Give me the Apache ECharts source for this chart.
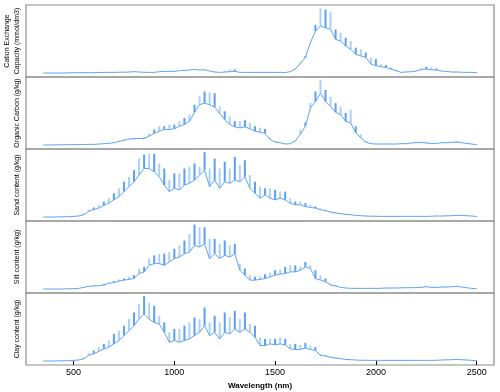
<!DOCTYPE html>
<html>
<head>
<meta charset="utf-8">
<script src="https://cdn.jsdelivr.net/npm/echarts@6/dist/echarts.min.js"></script>
<style>
    html, body { margin: 0; padding: 0; background: #fff; }
    #chart { width: 500px; height: 392px; }
</style>
</head>
<body>
<div id="chart"></div>
<script>
    // wavelength grid (nm)
    var wavelengths = [350,375,400,425,450,475,500,525,550,575,600,625,650,675,700,725,750,775,800,825,850,875,900,925,950,975,
        1000,1025,1050,1075,1100,1125,1150,1175,1200,1225,1250,1275,1300,1325,1350,1375,1400,1425,1450,1475,
        1500,1525,1550,1575,1600,1625,1650,1675,1700,1725,1750,1775,1800,1825,1850,1875,1900,1925,1950,1975,
        2000,2025,2050,2075,2100,2125,2150,2175,2200,2225,2250,2275,2300,2325,2350,2375,2400,2425,2450,2475,2500];
    var xTicks = [500, 1000, 1500, 2000, 2500];

    var panelNames = ['Cation Exchange\nCapacity (mmol/dm3)', 'Organic Carbon (g/kg)', 'Sand content (g/kg)', 'Silt content (g/kg)', 'Clay content (g/kg)'];

    // mean importance curve and top of its error bar, per soil property
    var cecMean = [0,0,0,0,0,0.3,0.5,0.5,0.5,0.5,0.7,0.8,1,1,
        1,1.2,1.3,1.5,2,1.5,1.2,
        1,1,2,2.5,2.5,
        2.5,3.5,4,4.5,5.5,4.5,5,3,1.5,1,1.5,2,2.5,
        1,1,1,1,1,1,1,1,1,0.8,2,6,
        14.5,23.5,46,63.5,71,68.5,66,51,48.5,41,36,28.5,26,23.5,13.5,11,9.5,8.5,6,3.5,
        1,1.5,2,3,5,6,5,4.5,3,2.5,1.5,1.5,1.2,1,1,0.8];
    var cecUpper = [0.3,0.3,0.3,0.3,0.3,0.6,0.8,0.8,0.8,0.8,1,1.1,1.3,1.3,
        1.3,1.5,1.6,1.8,2.4,1.8,1.5,
        1.3,1.3,2.4,3,3,
        3,4,4.5,5,6,5,5.5,3.5,2,1.3,2.5,5.5,5.5,
        1.3,1.3,1.3,1.3,1.3,1.3,1.3,1.3,1.3,1.1,2.5,7,
        17,26,48,73,98,96,93,66,61,53.5,48.5,38.5,36,31,23.5,21,13.5,12,8.5,5,
        1.4,2,2.5,3.5,7.5,9.5,8.5,7,3.5,3,2,2,1.5,1.3,1.3,1.1];

    var ocMean = [0,0,0.2,0.3,0.4,0.5,0.6,0.7,0.8,1,
        1,1.5,2,2.5,3.5,5.5,7,9,9.5,10,10,
        13.5,17.5,21,23.5,23.5,24.5,28.5,31,36,
        49.5,61,63.5,61,57.5,47.5,38.5,31,27.5,26,27.5,24.5,21,19.5,17.5,
        8.5,4.5,3.5,1.5,2,6,
        16,28.5,56,66,78.5,66,58.5,49.5,46,36,33.5,18.5,11,
        4.5,2,1.5,1.5,1.5,1.5,1.5,2,
        2,3,3.5,4,3,2.5,2.5,3.5,3.5,4,4.5,3.5,2.5,1.5,0.5];
    var ocUpper = [0.3,0.3,0.5,0.6,0.7,0.8,0.9,1,1.1,1.3,
        1.3,1.8,2.4,3,4,6.5,8,10,10.5,11,11.5,
        17.5,23.5,28.5,28.5,31,31,36,41,46,
        61,73.5,81,79.5,78.5,58.5,51,43.5,36,36,37.5,33.5,28.5,26,24.5,
        11,5.5,4,2,2.5,7,
        23.5,34,63.5,81,98.5,83.5,73.5,63.5,58.5,48.5,53.5,28.5,16,
        5.5,2.5,2,2,2,2,2,2.5,
        2.5,3.5,4.5,5,4,3,3,4.5,4.5,5,6,4.5,3,2,0.8];

    var sandMean = [0,0,0,0.2,0.4,0.5,1,1.5,3.5,
        8.5,11,13.5,17.5,21,26,31,38.5,46,53.5,63.5,73.5,73.5,68.5,
        61,48.5,38.5,43.5,41,48.5,51,56,63.5,71,46,56,43.5,53.5,51,56,53.5,61,
        43.5,36,28.5,33.5,28.5,26,28.5,26,21,18.5,18.5,16,14.5,13.5,11,9.5,7.5,6,5,4,3.5,2.5,2,1.5,
        1.2,1.2,1,1,1,1,1,1,1,1,1,1,1.2,1.5,1.5,1.8,2,2.5,2.5,2,1.5,0.8];
    var sandUpper = [0.3,0.3,0.3,0.5,0.7,0.8,1.5,2.5,5,
        11.5,14.5,18.5,23.5,28.5,36,43.5,53.5,61,71,88.5,94.5,96,96,
        81,73.5,56,66,66,73.5,76,81,76,98.5,73.5,88.5,73.5,83.5,73.5,91,78.5,86,
        63.5,53.5,46,43.5,43.5,41,38.5,38.5,28.5,23.5,23.5,21,18.5,16,13.5,11,9,7,6,5,4.5,3,2.5,2,
        1.6,1.6,1.3,1.3,1.3,1.3,1.3,1.3,1.3,1.3,1.3,1.3,1.6,2,2,2.3,2.6,3.2,3.2,2.6,2,1];

    var siltMean = [0,0,0,0,0.2,0.4,0.5,
        1,2.5,4,4.5,5,6,8.5,10,12,13.5,14.5,16,
        23.5,26,36,38.5,38.5,36,41,46,48.5,53.5,56,66,63.5,68.5,46,53.5,46,51,48.5,53.5,
        28.5,21,13.5,13.5,14.5,16,18.5,21,22.5,23.5,26,26,28.5,33.5,31,16,13.5,11,6,4.5,2.5,1.5,
        1.2,1,1,1,1,1,1.2,1.5,1.5,1.5,1.8,2,2,2.2,2.5,3.5,2.5,2.5,3,3,3.5,4,3,2,1,0.5];
    var siltUpper = [0.3,0.3,0.3,0.3,0.5,0.7,0.8,
        1.5,3.2,5,5.5,6,7.5,10,12,14.5,16,18.5,21,
        31,33.5,46,51,53.5,53.5,56,61,66,73.5,83.5,97.5,93.5,93.5,76,76,68.5,73.5,66,68.5,
        38.5,31,21,18.5,19.5,22.5,24.5,28.5,29.5,33.5,36,36,33.5,41,36,28.5,21,16,8.5,5.5,3,2,
        1.6,1.3,1.3,1.3,1.3,1.3,1.6,2,2,2,2.3,2.6,2.6,2.8,3.2,4.3,3.2,3.2,3.8,3.8,4.3,5,3.8,2.6,1.3,0.8];

    var clayMean = [0,0,0,0.2,0.4,0.5,1,1.5,3.5,
        8.5,11,14.5,18.5,21,26,31,38.5,46,53.5,63.5,71,63.5,58.5,
        56,43.5,28.5,31,28.5,31,33.5,38.5,43.5,53.5,38.5,43.5,33.5,43.5,41,48.5,43.5,48.5,43.5,36,
        23.5,23.5,26,24.5,26,24.5,18.5,17.5,17.5,19.5,17.5,16,8.5,7.5,5.5,4.5,3.5,2.5,2,1.5,
        1.2,1.2,1,1,1,1,1,1,1,1,1,1,1,1,1,1.2,1.5,1.8,2,2.5,2,1.5,1,0.5];
    var clayUpper = [0.3,0.3,0.3,0.5,0.7,0.8,1.5,2.5,5,
        12,16,21,26,31,41,46,53.5,63.5,73.5,86,98.5,88.5,83.5,
        68.5,58.5,43.5,48.5,48.5,53.5,58.5,66,63.5,81,58.5,68.5,58.5,73.5,66,76,63.5,73.5,56,53.5,
        36,33.5,33.5,33.5,36,33.5,26,26,24.5,27.5,23.5,21,11,9,7,5.5,4.5,3,2.5,2,
        1.6,1.6,1.3,1.3,1.3,1.3,1.3,1.3,1.3,1.3,1.3,1.3,1.3,1.3,1.3,1.6,2,2.3,2.6,3.2,2.6,2,1.3,0.8];

    var means = [cecMean, ocMean, sandMean, siltMean, clayMean];
    var uppers = [cecUpper, ocUpper, sandUpper, siltUpper, clayUpper];

    var chart = echarts.init(document.getElementById('chart'), null, {renderer: 'canvas'});

    var grids = [], xAxes = [], yAxes = [], series = [];
    for (var i = 0; i < 5; i++) {
        var last = (i == 4);
        grids.push({
            left: 26, right: 6, top: 5 + i * 72, height: 72,
            outerBoundsMode: 'none', containLabel: false,
            show: true, borderColor: '#8c8c8c', borderWidth: 1.2
        });
        xAxes.push({
            gridIndex: i, type: 'value', min: 264, max: 2586,
            axisLine: {show: false},
            splitLine: {show: false},
            axisTick: {show: last, customValues: xTicks, length: 4, lineStyle: {color: '#000'}},
            axisLabel: {
                show: last, customValues: xTicks, fontSize: 9, color: '#000', margin: 3, fontFamily: 'Liberation Sans',
                formatter: function (v) { return String(v); }
            },
            name: last ? 'Wavelength (nm)' : '',
            nameLocation: 'middle', nameGap: 17,
            nameTextStyle: {fontSize: 8, fontWeight: 'bold', color: '#000', fontFamily: 'Liberation Sans'}
        });
        yAxes.push({
            gridIndex: i, type: 'value', min: -6, max: 103,
            axisLine: {show: false}, axisTick: {show: false}, axisLabel: {show: false}, splitLine: {show: false},
            name: panelNames[i], nameLocation: 'middle', nameRotate: 90, nameGap: 4,
            nameTextStyle: {fontSize: 7, color: '#000', lineHeight: 10, fontFamily: 'Liberation Sans'}
        });

        var barData = [], lineData = [];
        for (var k = 0; k < wavelengths.length; k++) {
            barData.push([wavelengths[k], means[i][k], uppers[i][k]]);
            lineData.push([wavelengths[k], means[i][k]]);
        }
        // error bars: thin vertical segments from the mean up to the upper value
        series.push({
            type: 'custom', xAxisIndex: i, yAxisIndex: i, silent: true, z: 2,
            encode: {x: 0, y: [1, 2]},
            data: barData,
            renderItem: function (params, api) {
                var p0 = api.coord([api.value(0), api.value(1)]);
                var p1 = api.coord([api.value(0), api.value(2)]);
                return {
                    type: 'line',
                    shape: {x1: p0[0], y1: p0[1], x2: p1[0], y2: p1[1]},
                    style: {stroke: params.dataIndex % 2 ? '#acd0fa' : '#5b9ff0', lineWidth: 2}
                };
            }
        });
        series.push({
            type: 'line', xAxisIndex: i, yAxisIndex: i, silent: true, z: 3,
            data: lineData, showSymbol: false, animation: false,
            lineStyle: {color: '#5ea4f5', width: 1}
        });
    }

    chart.setOption({
        animation: false,
        grid: grids,
        xAxis: xAxes,
        yAxis: yAxes,
        series: series
    });
</script>
</body>
</html>
